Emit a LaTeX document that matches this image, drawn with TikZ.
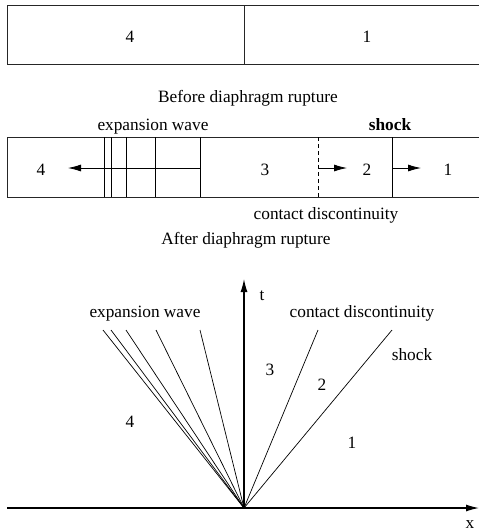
\documentclass[tikz,border=0pt]{standalone}
\usepackage{fontspec}
\setmainfont{Liberation Serif}
\usetikzlibrary{arrows.meta}

\begin{document}
\begin{tikzpicture}[
		x=1pt, y=-1pt,
		tube/.style={line width=1pt, color=black!85},
		wave/.style={line width=0.7pt},
		contact/.style={line width=0.7pt, dash pattern=on 4pt off 3pt},
		arrow/.style={-{Latex[length=13pt,width=7pt]}, line width=0.8pt},
		axis/.style={-{Latex[length=13pt,width=7pt]}, line width=1.2pt},
		lbl/.style={font=\fontsize{17.3}{20}\selectfont, anchor=base, inner sep=0pt}
		]
		\useasboundingbox (0,0) rectangle (479,531);

		% before rupture
		\draw[tube] (479,5) -- (7,5) -- (7,64) -- (479,64);
		\draw[tube] (244,5) -- (244,64);
		\node[lbl] (b4) at (130,42) {4};
		\node[lbl] (b1) at (367,42) {1};
		\node[lbl] (before) at (248,102) {Before diaphragm rupture};

		% after rupture
		\draw[tube] (479,137) -- (7,137) -- (7,197) -- (479,197);
		\foreach \xa in {104,111,126,155,200}
			\draw[wave] (\xa,137) -- (\xa,197);
		\draw[contact] (318,137) -- (318,197);
		\draw[wave] (392,137) -- (392,197);
		\coordinate (headT) at (200,168);
		\coordinate (tailT) at (68,168);
		\coordinate (cdT) at (318,168);
		\coordinate (cdH) at (347,168);
		\coordinate (shT) at (392,168);
		\coordinate (shH) at (421,168);
		\draw[arrow] (headT) -- (tailT);
		\draw[arrow] (cdT) -- (cdH);
		\draw[arrow] (shT) -- (shH);
		\node[lbl] (a4) at (41,175) {4};
		\node[lbl] (a3) at (265,175) {3};
		\node[lbl] (a2) at (367,175) {2};
		\node[lbl] (a1) at (448,175) {1};
		\node[lbl] (expT) at (153,130) {expansion wave};
		\node[lbl] (shockT) at (390,130) {\bfseries shock};
		\node[lbl] (cdLbl) at (326,219) {contact discontinuity};
		\node[lbl] (after) at (246,244) {After diaphragm rupture};

		% x-t diagram
		\coordinate (o) at (244,508);
		\coordinate (xl) at (7,508);
		\coordinate (xr) at (479,508);
		\coordinate (tt) at (244,279);
		\draw[axis] (xl) -- (xr);
		\draw[axis] (o) -- (tt);
		\foreach \xb in {103,111,126,156,200}
			\draw[wave] (o) -- (\xb,330);
		\coordinate (cdEnd) at (318,330);
		\coordinate (shEnd) at (392,330);
		\draw[wave] (o) -- (cdEnd);
		\draw[wave] (o) -- (shEnd);
		\node[lbl] (tLbl) at (262,300) {t};
		\node[lbl] (xLbl) at (470,528) {x};
		\node[lbl] (expD) at (145,317) {expansion wave};
		\node[lbl] (cdD) at (362,317) {contact discontinuity};
		\node[lbl] (shockD) at (412,360) {shock};
		\node[lbl] (d3) at (270,375) {3};
		\node[lbl] (d2) at (322,390) {2};
		\node[lbl] (d4) at (130,427) {4};
		\node[lbl] (d1) at (352,448) {1};
\end{tikzpicture}
\end{document}
